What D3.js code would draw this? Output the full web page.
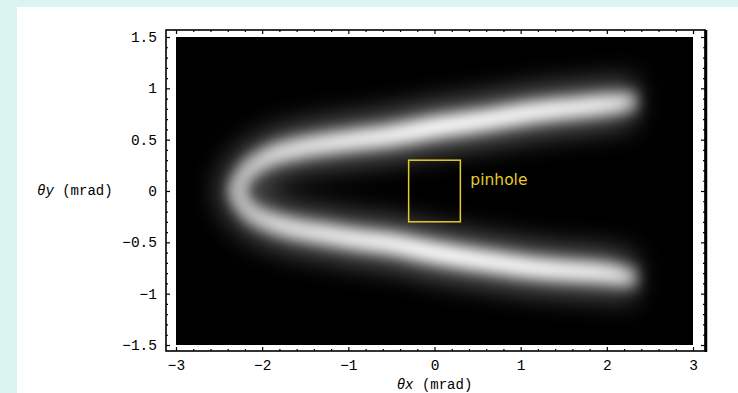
<!DOCTYPE html>
<html>
<head>
<meta charset="utf-8">
<script src="https://cdn.jsdelivr.net/npm/d3@7"></script>
<style>
  html, body { margin: 0; padding: 0; background: #dcf4f1; }
  svg { display: block; }
</style>
</head>
<body>
<div id="chart"></div>
<script>
// ridge of the bright band (mrad)
const ridgeX  = [-2.29, -2.23, -2.13, -2.0, -1.84, -1.55, -1.26, -0.9, -0.52, 0.0, 0.5, 1.17, 1.6, 1.95, 2.3, 2.48];
const upperY  = [0.0, 0.13, 0.23, 0.30, 0.36, 0.42, 0.46, 0.50, 0.54, 0.62, 0.68, 0.77, 0.81, 0.84, 0.87, 0.88];
const lowerY  = [0.0, -0.12, -0.21, -0.27, -0.32, -0.38, -0.42, -0.47, -0.51, -0.60, -0.67, -0.75, -0.78, -0.80, -0.84, -0.85];

// brightness of the band along x
const glowX = [-3, -2.3, -2.1, -1.8, -1.2, -0.5, 0, 1, 1.9, 2.15, 2.3, 2.42, 3];
const glowI = [0.55, 0.58, 0.68, 0.8, 0.88, 0.95, 1.0, 0.97, 0.9, 0.82, 0.55, 0.0, 0.0];

const pinhole = { x: [-0.3, 0.3], y: [-0.3, 0.3], label: "pinhole" };

const xTicks = [-3, -2, -1, 0, 1, 2, 3];
const xTickLabels = ["\u22123", "\u22122", "\u22121", "0", "1", "2", "3"];
const yTicks = [-1.5, -1, -0.5, 0, 0.5, 1, 1.5];
const yTickLabels = ["\u22121.5", "\u22121", "\u22120.5", "0", "0.5", "1", "1.5"];

const W = 738, H = 393;
const frame = { left: 166, top: 30, right: 705, bottom: 351 };

const svg = d3.select("#chart").append("svg")
  .attr("width", W).attr("height", H);

// white panel on the cyan page
svg.append("rect")
  .attr("x", 17).attr("y", 7)
  .attr("width", W - 17).attr("height", H - 7)
  .attr("fill", "#fff");

const x = d3.scaleLinear().domain([-3, 3]).range([176, 693]);
const y = d3.scaleLinear().domain([-1.5, 1.5]).range([345, 37]);

const defs = svg.append("defs");
defs.append("clipPath").attr("id", "plotclip")
  .append("rect")
  .attr("x", x(-3)).attr("y", y(1.5))
  .attr("width", x(3) - x(-3)).attr("height", y(-1.5) - y(1.5));

const grad = defs.append("linearGradient")
  .attr("id", "glowgrad")
  .attr("gradientUnits", "userSpaceOnUse")
  .attr("x1", x(-3)).attr("x2", x(3))
  .attr("y1", 0).attr("y2", 0);
grad.selectAll("stop").data(glowX).join("stop")
  .attr("offset", d => (x(d) - x(-3)) / (x(3) - x(-3)))
  .attr("stop-color", "#fff")
  .attr("stop-opacity", (d, i) => glowI[i]);

const wide = defs.append("filter").attr("id", "blurwide")
  .attr("x", "-20%").attr("y", "-30%").attr("width", "140%").attr("height", "160%");
wide.append("feGaussianBlur").attr("stdDeviation", "12 14");

const core = defs.append("filter").attr("id", "blurcore")
  .attr("x", "-20%").attr("y", "-30%").attr("width", "140%").attr("height", "160%");
core.append("feGaussianBlur").attr("stdDeviation", "5.5 7");

// black density plot
const plot = svg.append("g").attr("clip-path", "url(#plotclip)");
plot.append("rect")
  .attr("x", x(-3)).attr("y", y(1.5))
  .attr("width", x(3) - x(-3)).attr("height", y(-1.5) - y(1.5))
  .attr("fill", "#000");

// one path: lower arm tip -> vertex -> upper arm tip
const pts = ridgeX.map((d, i) => [d, lowerY[i]]).reverse()
  .concat(ridgeX.slice(1).map((d, i) => [d, upperY[i + 1]]));

const line = d3.line()
  .curve(d3.curveCatmullRom)
  .x(d => x(d[0]))
  .y(d => y(d[1]));

plot.append("path")
  .datum(pts)
  .attr("d", line)
  .attr("fill", "none")
  .attr("stroke", "url(#glowgrad)")
  .attr("stroke-width", 46)
  .attr("stroke-linecap", "butt")
  .attr("stroke-opacity", 0.42)
  .attr("filter", "url(#blurwide)");

plot.append("path")
  .datum(pts)
  .attr("d", line)
  .attr("fill", "none")
  .attr("stroke", "url(#glowgrad)")
  .attr("stroke-width", 20)
  .attr("stroke-linecap", "butt")
  .attr("filter", "url(#blurcore)");

// pinhole box + label
const yellow = "#e4cc2c";
svg.append("rect")
  .attr("x", x(pinhole.x[0])).attr("y", y(pinhole.y[1]))
  .attr("width", x(pinhole.x[1]) - x(pinhole.x[0]))
  .attr("height", y(pinhole.y[0]) - y(pinhole.y[1]))
  .attr("fill", "none")
  .attr("stroke", yellow)
  .attr("stroke-width", 1.5);

svg.append("text")
  .attr("x", x(pinhole.x[1]) + 10)
  .attr("y", y(0) - 6)
  .attr("fill", yellow)
  .style("font-family", "DejaVu Sans, sans-serif")
  .style("font-size", "15.5px")
  .text(pinhole.label);

// frame with ticks on all four sides
svg.append("rect")
  .attr("x", frame.left).attr("y", frame.top)
  .attr("width", frame.right - frame.left)
  .attr("height", frame.bottom - frame.top)
  .attr("fill", "none")
  .attr("stroke", "#000")
  .attr("stroke-width", 1.6);
svg.append("line")
  .attr("x1", frame.right + 1).attr("x2", frame.right + 1)
  .attr("y1", frame.top).attr("y2", frame.bottom + 1)
  .attr("stroke", "#000").attr("stroke-width", 2.5);

const xMinor = d3.range(-3, 3.001, 0.2).filter(v => Math.abs(v - Math.round(v)) > 0.01);
const yMinor = d3.range(-1.5, 1.501, 0.1).filter(v => Math.abs(v * 2 - Math.round(v * 2)) > 0.01);

const tickFont = g => g
  .style("font-family", "Liberation Mono, Courier New, monospace")
  .style("font-size", "14.5px")
  .attr("fill", "#000");

function frameAxis(axis, tr) {
  const g = svg.append("g").attr("transform", tr).call(axis);
  g.select(".domain").remove();
  g.selectAll("line").attr("stroke", "#000").attr("stroke-width", 1.2);
  return g;
}

// major ticks with labels
frameAxis(d3.axisBottom(x).tickValues(xTicks).tickSize(-4).tickPadding(9)
  .tickFormat((d, i) => xTickLabels[i]), `translate(0,${frame.bottom})`)
  .selectAll("text").call(tickFont);
frameAxis(d3.axisLeft(y).tickValues(yTicks).tickSize(-4).tickPadding(9)
  .tickFormat((d, i) => yTickLabels[i]), `translate(${frame.left},0)`)
  .selectAll("text").call(tickFont);
frameAxis(d3.axisTop(x).tickValues(xTicks).tickSize(-4).tickFormat(""), `translate(0,${frame.top})`);
frameAxis(d3.axisRight(y).tickValues(yTicks).tickSize(-4).tickFormat(""), `translate(${frame.right},0)`);

// minor ticks
frameAxis(d3.axisBottom(x).tickValues(xMinor).tickSize(-2).tickFormat(""), `translate(0,${frame.bottom})`);
frameAxis(d3.axisTop(x).tickValues(xMinor).tickSize(-2).tickFormat(""), `translate(0,${frame.top})`);
frameAxis(d3.axisLeft(y).tickValues(yMinor).tickSize(-2).tickFormat(""), `translate(${frame.left},0)`);
frameAxis(d3.axisRight(y).tickValues(yMinor).tickSize(-2).tickFormat(""), `translate(${frame.right},0)`);

// axis titles
const titleStyle = t => t
  .style("font-family", "Liberation Mono, Courier New, monospace")
  .style("font-size", "14px")
  .attr("fill", "#000");

const yt = svg.append("text").attr("x", 37).attr("y", y(0) + 4).call(titleStyle);
yt.append("tspan").style("font-style", "italic").text("\u03b8y");
yt.append("tspan").text(" (mrad)");

const xt = svg.append("text").attr("x", x(0)).attr("y", 389)
  .attr("text-anchor", "middle").call(titleStyle);
xt.append("tspan").style("font-style", "italic").text("\u03b8x");
xt.append("tspan").text(" (mrad)");
</script>
</body>
</html>
